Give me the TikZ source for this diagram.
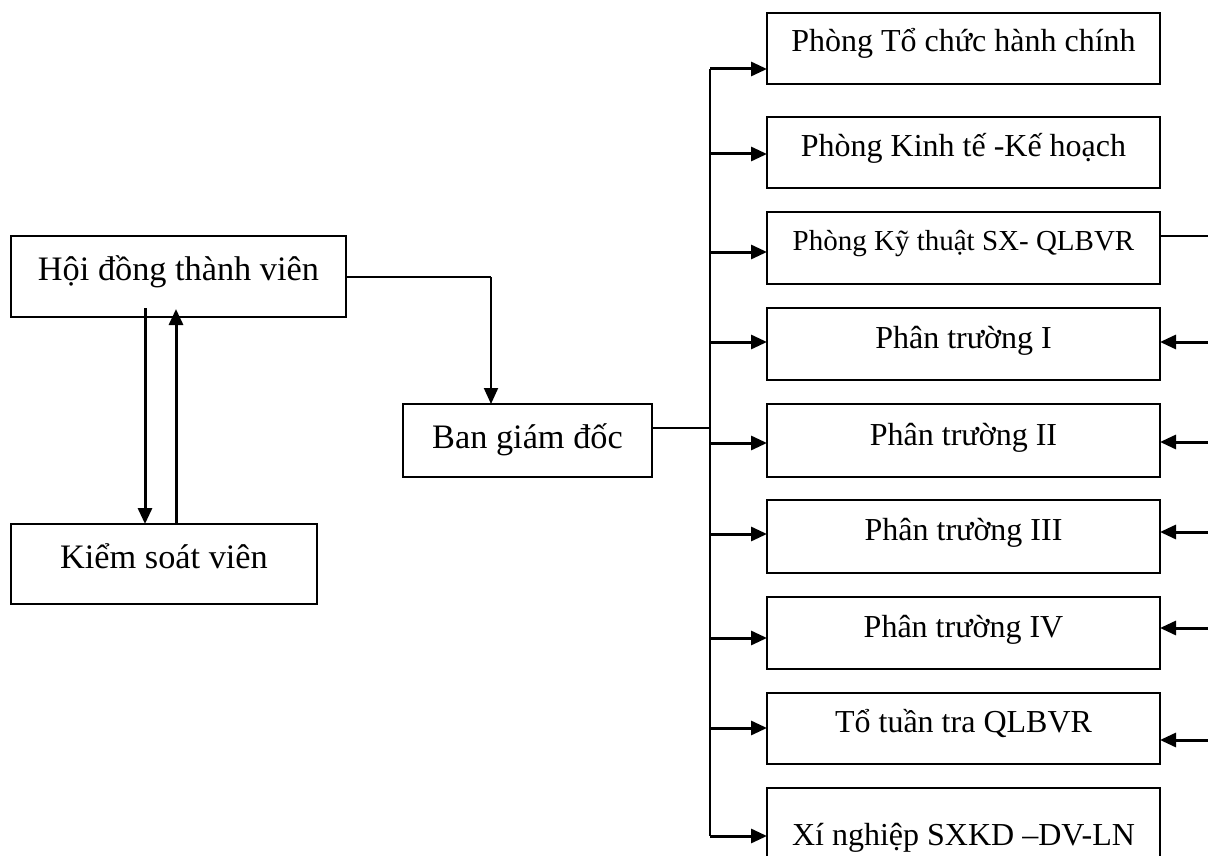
\documentclass[tikz,border=0pt]{standalone}
\usepackage{fontspec}
\setmainfont{Liberation Serif}
\usetikzlibrary{arrows.meta,calc}

\begin{document}
\begin{tikzpicture}[x=1pt,y=-1pt,
  box/.style={draw,line width=2pt,inner sep=0pt,outer sep=0pt,anchor=north west,align=center},
  bigtxt/.style={font=\fontsize{34.3}{40}\selectfont},
  midtxt/.style={font=\fontsize{32}{38}\selectfont},
  smalltxt/.style={font=\fontsize{29}{34}\selectfont},
  unit/.style={box,midtxt,minimum width=393pt,text height=40pt,text depth=31.5pt},
  thin/.style={line width=2pt},
  arr/.style={line width=3pt,-{Triangle[length=16pt,width=14pt]}}]
\useasboundingbox (0,0) rectangle (1208,856);

% governing bodies on the left
\node[box,bigtxt,minimum width=335pt,text height=44pt,text depth=37pt] (hdtv) at (11,236) {Hội đồng thành viên};
\node[box,bigtxt,minimum width=306pt,text height=44pt,text depth=36pt] (ksv) at (11,524) {Kiểm soát viên};
\node[box,bigtxt,minimum width=249pt,text height=44pt,text depth=29pt] (bgd) at (403,404) {Ban giám đốc};

% departments and units on the right
\node[unit,text height=39pt,text depth=32pt] (p1) at (767,13) {Phòng Tổ chức hành chính};
\node[unit] (p2) at (767,117) {Phòng Kinh tế -Kế hoạch};
\node[box,smalltxt,minimum width=393pt,text height=38pt,text depth=34pt] (p3) at (767,212) {Phòng Kỹ thuật SX- QLBVR};
\node[unit] (p4) at (767,308) {Phân trường I};
\node[unit,text height=41pt,text depth=32pt] (p5) at (767,404) {Phân trường II};
\node[unit,text depth=33pt] (p6) at (767,500) {Phân trường III};
\node[unit] (p7) at (767,597) {Phân trường IV};
\node[unit,text height=39pt,text depth=32pt] (p8) at (767,693) {Tổ tuần tra QLBVR};
\node[unit,text height=57pt,text depth=45pt] (p9) at (767,788) {Xí nghiệp SXKD –DV-LN};

% board to management and to the controller
\coordinate (hdtvTurn) at (491,277);
\draw[thin] (hdtv.east |- hdtvTurn) -- (hdtvTurn);
\draw[arr,line width=2pt] (hdtvTurn) -- (hdtvTurn |- bgd.north);
\draw[arr] ($(hdtv.south west)+(134,-9)$) -- ($(ksv.north west)+(134,0)$);
\draw[arr] ($(ksv.north west)+(165,0)$) -- ($(hdtv.south west)+(165,-8)$);

% distribution bus from management
\coordinate (busTop) at (710,69);
\coordinate (busBot) at (710,836);
\coordinate (busJoin) at (710,428);
\draw[thin] (bgd.east |- busJoin) -- (busJoin);
\draw[thin] (busTop) -- (busBot);
\foreach \n/\yy in {p1/69,p2/154,p3/252,p4/342,p5/443,p6/534,p7/638,p8/728,p9/836}{
  \draw[arr] (710,\yy) -- (\n.west |- 0,\yy);
}

% links from the right-hand side
\coordinate (rOut) at (1208,236);
\draw[thin] (p3.east |- rOut) -- (rOut);
\foreach \n/\yy in {p4/342,p5/442,p6/532,p7/628,p8/740}{
  \coordinate (r\n) at (1208,\yy);
  \draw[arr] (r\n) -- (\n.east |- r\n);
}
\end{tikzpicture}
\end{document}
